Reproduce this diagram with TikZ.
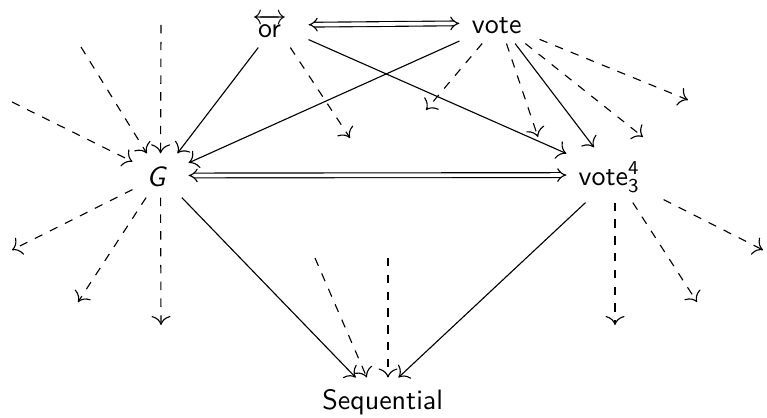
\documentclass[tikz,border=0pt]{standalone}
\usepackage{amsmath}
\renewcommand\familydefault{\sfdefault}
\usetikzlibrary{arrows.meta}
\begin{document}
\begin{tikzpicture}[x=0.357pt, y=-0.357pt,
  box/.style={inner sep=0pt, text depth=0pt},
  arr/.style={-{Computer Modern Rightarrow[scale=1.3]}, line width=0.4pt},
  dasharr/.style={arr, dashed},
  dbl/.style={double, double distance=1.3pt, line width=0.4pt, {Implies[scale=1.1]}-{Implies[scale=1.1]}}]
\useasboundingbox (0,0) rectangle (767,417);

% objects
\node[box, minimum width=23.2pt, minimum height=15.7pt, text height=8.8pt] (or) at (275.5,25) {$\overleftrightarrow{\textsf{or}}$\kern4.3pt};
\node[box, minimum width=28.2pt, minimum height=14.3pt, text height=7.4pt] (vote) at (499.5,23) {vote\kern2pt};
\node[box, minimum width=19.6pt, minimum height=15.4pt, text height=7.5pt] (G) at (160.5,175.5) {\textit{G}\kern2.7pt};
\node[box, minimum width=34.3pt, minimum height=19.3pt, text height=7.2pt] (v34) at (615,175) {vote$^{\textsf{4}}_{\textsf{3}}$\kern4.1pt};
\node[box, minimum width=50pt, minimum height=14.6pt, text height=7.5pt] (seq) at (376,398.5) {\kern4.8pt Sequential};

% free ends of the dashed arrows
\coordinate (a1) at (12,102);
\coordinate (a2) at (81,47);
\coordinate (a3) at (161,25);
\coordinate (b1) at (12,250);
\coordinate (b2) at (78,302);
\coordinate (b3) at (161,325);
\coordinate (c1) at (350,138);
\coordinate (d1) at (426,110);
\coordinate (d2) at (538,137);
\coordinate (d3) at (643,137);
\coordinate (d4) at (688,100);
\coordinate (e1) at (615,325);
\coordinate (e2) at (697,302);
\coordinate (e3) at (763,250);
\coordinate (f1) at (315,258);
\coordinate (f2) at (388,258);

% equivalences
\draw[dbl] (or) -- (vote);
\draw[dbl] (G) -- (v34);

% solid arrows
\draw[arr] (or) -- (G);
\draw[arr] (or) -- (v34);
\draw[arr] (vote) -- (G);
\draw[arr] (vote) -- (v34);
\draw[arr] (G) -- (seq);
\draw[arr] (v34) -- (seq);

% dashed arrows
\draw[dasharr] (a1) -- (G);
\draw[dasharr] (a2) -- (G);
\draw[dasharr] (a3) -- (G);
\draw[dasharr] (G) -- (b1);
\draw[dasharr] (G) -- (b2);
\draw[dasharr] (G) -- (b3);
\draw[dasharr] (or) -- (c1);
\draw[dasharr] (vote) -- (d1);
\draw[dasharr] (vote) -- (d2);
\draw[dasharr] (vote) -- (d3);
\draw[dasharr] (vote) -- (d4);
\draw[dasharr] (v34) -- (e1);
\draw[dasharr] (v34) -- (e2);
\draw[dasharr] (v34) -- (e3);
\draw[dasharr] (f1) -- (seq);
\draw[dasharr] (f2) -- (f2 |- seq.north);
\end{tikzpicture}
\end{document}
